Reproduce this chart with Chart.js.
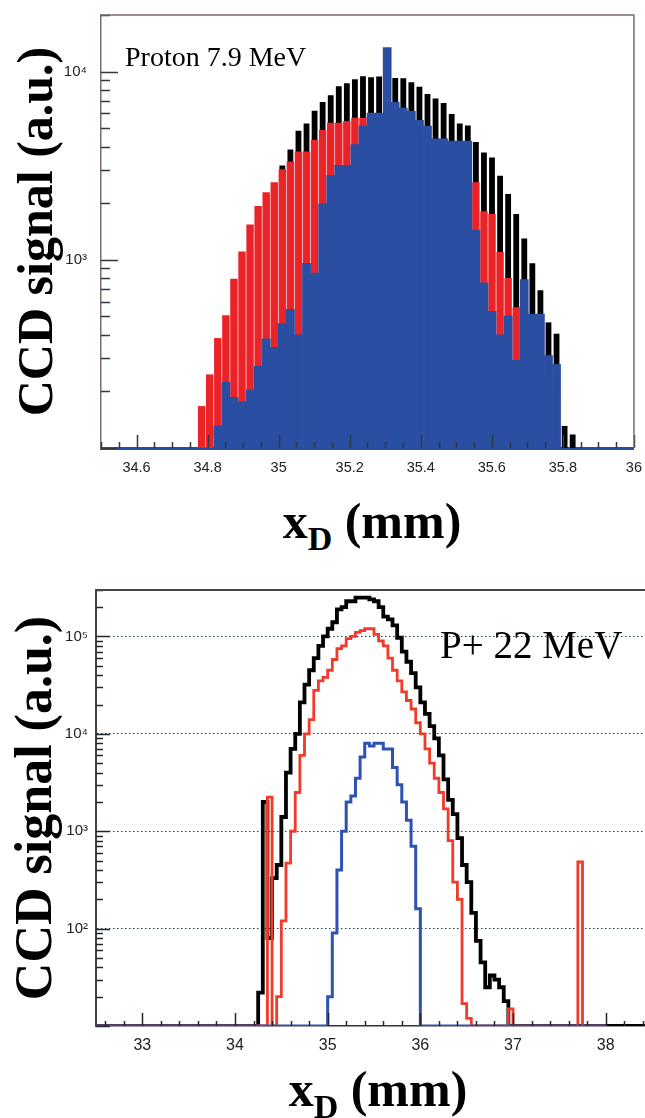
<!DOCTYPE html>
<html>
<head>
<meta charset="utf-8">
<script src="https://cdn.jsdelivr.net/npm/chart.js@4.4.1/dist/chart.umd.min.js"></script>
<style>
  html, body { margin: 0; padding: 0; background: #fff; width: 645px; height: 1118px; overflow: hidden; }
  canvas { position: absolute; left: 0; }
  #top { top: 0; }
  #bottom { top: 560px; }
  .xt { position: absolute; width: 300px; text-align: center; color: #000;
        font: bold 50px 'Liberation Serif', 'Times New Roman', serif; line-height: 50px; white-space: nowrap; }
  .xt .d { font-size: 34px; position: relative; top: 12px; }
</style>
</head>
<body>
<canvas id="top" width="645" height="480"></canvas>
<div class="xt" style="left:222px; top:496px">x<span class="d">D</span> (mm)</div>
<canvas id="bottom" width="660" height="558"></canvas>
<div class="xt" style="left:228px; top:1064px">x<span class="d">D</span> (mm)</div>

<script>
// ---- Top panel: Proton 7.9 MeV, bins of 0.0227 mm starting at 34.772 mm ----
const topBinStart = 34.772;
const topBinWidth = 0.0227;
const topBlack = [null, 150, 230, 360, 676, 900, 1300, 1700, 2100, 2518,
  3175, 3857, 4853, 5300, 6200, 6890, 7500, 8370, 8680, 9120,
  9450, 9330, 9420, 9300, 9250, 9220, 8780, 8300, 7600, 7200,
  6810, 5960, 5300, 5180, 4230, 3720, 3500, 2800, 2240, 1750,
  1300, 959, 690, 465, 405, 131, 118];
const topRed = [167, 246, 384, 507, 794, 1106, 1540, 1931, 2287, 2581,
  3025, 3334, 3760, 3760, 4350, 4910, 5345, 5345, 5475, 5680,
  5680, 5800, 5850, 5800, 5700, 5500, 5200, 4900, 4500, 4100,
  3700, 3300, 3000, 2800, 2580, 1810, 1750, 1100, 800, 560,
  480, 380, 300, 240, 200, null, null];
const topBlue = [null, null, 131, 224, 186, 176, 203, 272, 380, 343,
  458, 546, 400, 959, 850, 1986, 2812, 3175, 3175, 4093,
  5155, 6030, 6030, 13420, 6860, 6410, 6150, 5520, 5130, 4400,
  4400, 4280, 4280, 4280, 1440, 754, 532, 400, 502, 292,
  785, 515, 515, 310, 278, null, null];
const topXLabels = ['34.6', '34.8', '35', '35.2', '35.4', '35.6', '35.8', '36'];
const topYTicks = [1e3, 1e4];
const topYLabels = ['10³', '10⁴'];

// ---- Bottom panel: P+ 22 MeV, bins of 0.05 mm ----
const botBinWidth = 0.05;
const botBlackStart = 34.25;
const botBlack = [22, 2000, 80, 330, 450, 1400, 4000, 7000, 10000, 21000,
  32000, 45000, 60000, 80000, 100000, 120000, 140000, 190000, 200000, 230000,
  230000, 250000, 250000, 250000, 240000, 230000, 200000, 160000, 150000, 130000,
  97000, 70000, 55000, 42000, 30000, 21000, 16000, 12000, 9000, 6000,
  3400, 2100, 1500, 850, 450, 300, 145, 75, 45, 25,
  33, 30, 25, 18];
const botRedStart = 34.35;
const botRed = [2240, 0, 20, 120, 470, 1000, 2500, 6000, 10000, 14000,
  28000, 35000, 38000, 45000, 58000, 75000, 80000, 95000, 100000, 110000,
  115000, 120000, 120000, 105000, 90000, 80000, 60000, 45000, 35000, 27000,
  22000, 18000, 13000, 10000, 7000, 5000, 3500, 2500, 1700, 800,
  300, 200, 17, 12, 10, 0, 0, 0, 0, 0,
  0, 0, 15, 0, 0, 0, 0, 0, 0, 0,
  0, 0, 0, 0, 0, 0, 0, 483];
const botBlueStart = 35.0;
const botBlue = [20, 90, 400, 1000, 2000, 2300, 3500, 5800, 8000, 7500,
  8000, 8000, 7000, 7000, 4500, 3000, 2000, 1300, 700, 160];
// histogram axis ranges (empty bins sit on the axis)
const botBlackRange = [32.5, 38.5];
const botRedRange = [32.5, 38.0];
const botBlueRange = [32.5, 38.0];
const botXLabels = ['33', '34', '35', '36', '37', '38'];
const botYTicks = [1e2, 1e3, 1e4, 1e5];
const botYLabels = ['10²', '10³', '10⁴', '10⁵'];

const BLACK = '#000000';
const RED = '#ea2328';
const BLUE = '#2a4ea1';
const RED2 = '#f23a2b';
const BLUE2 = '#2d52b3';

// ---- Helpers ----

function toBars(values, start, width) {
  return values.map((v, i) => ({ x: start + (i + 0.5) * width, y: v }));
}

// step outline: points on left bin edges, empty bins drawn on the axis floor
function toSteps(values, start, width, range, floor) {
  const pts = [{ x: range[0], y: floor }];
  values.forEach((v, i) => pts.push({ x: start + i * width, y: v > 0 ? v : floor }));
  pts.push({ x: start + values.length * width, y: floor });
  pts.push({ x: range[1], y: floor });
  return pts;
}

// ROOT-style inner tick marks, top/right frame and the panel label
const rootAxes = {
  id: 'rootAxes',
  afterDatasetsDraw(chart, args, o) {
    const { ctx, chartArea: a, scales: { x, y } } = chart;
    ctx.save();
    ctx.strokeStyle = o.tickColor;
    ctx.lineWidth = 1.5;
    ctx.beginPath();
    for (let e = Math.floor(Math.log10(y.min)); e <= Math.ceil(Math.log10(y.max)); e++) {
      for (let k = 1; k <= 9; k++) {
        const v = k * Math.pow(10, e);
        if (v < y.min * 0.999 || v > y.max) continue;
        const py = Math.round(y.getPixelForValue(v)) + 0.5;
        ctx.moveTo(a.left, py);
        ctx.lineTo(a.left + (k === 1 ? o.yMajor : o.yMinor), py);
      }
    }
    const first = Math.ceil(x.min / o.xStep - 1e-6);
    const last = Math.floor(x.max / o.xStep + 1e-6);
    for (let i = first; i <= last; i++) {
      const v = i * o.xStep;
      const r = v / o.xMajorStep;
      const major = Math.abs(r - Math.round(r)) < 1e-6;
      const px = Math.round(x.getPixelForValue(v)) + 0.5;
      ctx.moveTo(px, a.bottom);
      ctx.lineTo(px, a.bottom - (major ? o.xMajor : o.xMinor));
    }
    ctx.stroke();

    ctx.strokeStyle = o.frameColor;
    ctx.lineWidth = o.frameWidth;
    ctx.beginPath();
    ctx.moveTo(a.left, a.top);
    ctx.lineTo(a.right, a.top);
    ctx.lineTo(a.right, a.bottom);
    ctx.stroke();

    ctx.fillStyle = '#000';
    ctx.font = o.labelFont;
    ctx.textBaseline = 'alphabetic';
    ctx.textAlign = 'left';
    ctx.fillText(o.label, a.left + o.labelDx, a.top + o.labelDy);
    ctx.restore();
  }
};

const yTitle = (size, pad) => ({
  display: true,
  text: 'CCD signal (a.u.)',
  color: '#000',
  font: { family: "'Liberation Serif', 'Times New Roman', serif", size, weight: 'bold', lineHeight: 1 },
  padding: { top: pad, bottom: 0 },
});

const tickFont = (size) => ({ family: "'Liberation Sans', Arial, sans-serif", size });

// ---- Top chart (filled bars) ----

new Chart(document.getElementById('top'), {
  type: 'bar',
  data: {
    datasets: [
      { data: toBars(topBlue, topBinStart, topBinWidth), backgroundColor: BLUE, order: 0, barPercentage: 1.0 },
      { data: toBars(topRed, topBinStart, topBinWidth), backgroundColor: RED, order: 1, barPercentage: 0.92 },
      { data: toBars(topBlack, topBinStart, topBinWidth), backgroundColor: BLACK, order: 2, barPercentage: 0.72 },
    ],
  },
  options: {
    responsive: false,
    animation: false,
    datasets: { bar: { grouped: false, categoryPercentage: 1 } },
    layout: { padding: { top: 11, right: 0, left: 0, bottom: 0 }, autoPadding: false },
    plugins: {
      legend: { display: false },
      tooltip: { enabled: false },
      rootAxes: {
        tickColor: '#2e3b44', frameColor: '#7a6e6a', frameWidth: 1.5,
        yMajor: 17, yMinor: 9, xStep: 0.05, xMajorStep: 0.2, xMajor: 13, xMinor: 6,
        label: 'Proton 7.9 MeV', labelFont: "28px 'Liberation Serif', 'Times New Roman', serif",
        labelDx: 24, labelDy: 51,
      },
    },
    scales: {
      x: {
        type: 'linear', min: 34.5, max: 36, offset: false, bounds: 'data',
        grid: { display: false },
        border: { display: true, color: BLUE, width: 3 },
        ticks: { autoSkip: false, maxRotation: 0, padding: 3, color: '#222', font: tickFont(14.5),
                 callback: (v, i) => topXLabels[i] },
        afterBuildTicks: (s) => { s.ticks = topXLabels.map((t) => ({ value: parseFloat(t) })); },
        afterFit: (s) => { s.height = 32; },
      },
      y: {
        type: 'logarithmic', min: 100, max: 20000, bounds: 'data',
        grid: { display: false },
        border: { display: true, color: '#7a6e6a', width: 1.5 },
        ticks: { padding: 6, color: '#222', font: tickFont(15), callback: (v, i) => topYLabels[i] },
        afterBuildTicks: (s) => { s.ticks = topYTicks.map((v) => ({ value: v })); },
        afterFit: (s) => { s.width = 101; },
        title: yTitle(50, 14),
      },
    },
  },
  plugins: [rootAxes],
});

// ---- Bottom chart (step outlines) ----

const BOT_MIN = 10;

new Chart(document.getElementById('bottom'), {
  type: 'line',
  data: {
    datasets: [
      { data: toSteps(botBlue, botBlueStart, botBinWidth, botBlueRange, BOT_MIN), borderColor: BLUE2, borderWidth: 3, order: 0 },
      { data: toSteps(botRed, botRedStart, botBinWidth, botRedRange, BOT_MIN), borderColor: RED2, borderWidth: 2.8, order: 1 },
      { data: toSteps(botBlack, botBlackStart, botBinWidth, botBlackRange, BOT_MIN), borderColor: BLACK, borderWidth: 3.8, order: 2 },
    ],
  },
  options: {
    responsive: false,
    animation: false,
    datasets: { line: { stepped: 'before', pointRadius: 0, fill: false, borderJoinStyle: 'miter', borderCapStyle: 'butt', tension: 0 } },
    layout: { padding: { top: 30, right: 8, left: 0, bottom: 0 }, autoPadding: false },
    plugins: {
      legend: { display: false },
      tooltip: { enabled: false },
      rootAxes: {
        tickColor: '#1f2a30', frameColor: '#4a4240', frameWidth: 2,
        yMajor: 14, yMinor: 7, xStep: 0.2, xMajorStep: 1, xMajor: 13, xMinor: 5,
        label: 'P+ 22 MeV', labelFont: "39px 'Liberation Serif', 'Times New Roman', serif",
        labelDx: 344, labelDy: 68,
      },
    },
    scales: {
      x: {
        type: 'linear', min: 32.5, max: 38.5, offset: false, bounds: 'data',
        grid: { display: false },
        border: { display: true, color: '#333', width: 1.5 },
        ticks: { autoSkip: false, maxRotation: 0, padding: 2, color: '#222', font: tickFont(16),
                 callback: (v, i) => botXLabels[i] },
        afterBuildTicks: (s) => { s.ticks = botXLabels.map((t) => ({ value: parseFloat(t) })); },
        afterFit: (s) => { s.height = 92; },
      },
      y: {
        type: 'logarithmic', min: BOT_MIN, max: 300000, bounds: 'data',
        grid: { display: true, drawOnChartArea: true, drawTicks: false, color: '#1d3f55', lineWidth: 1 },
        border: { display: true, color: '#4a4240', width: 2, dash: [1.5, 2.5] },
        ticks: { padding: 8, color: '#222', font: tickFont(15), callback: (v, i) => botYLabels[i] },
        afterBuildTicks: (s) => { s.ticks = botYTicks.map((v) => ({ value: v })); },
        afterFit: (s) => { s.width = 96; },
        title: yTitle(52, 12),
      },
    },
  },
  plugins: [rootAxes],
});
</script>
</body>
</html>
